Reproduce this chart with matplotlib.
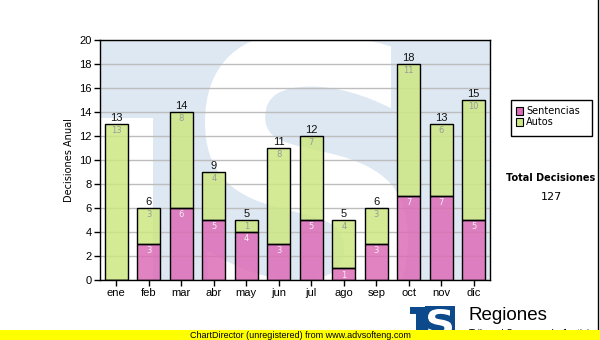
import matplotlib
matplotlib.use("Agg")
import matplotlib.pyplot as plt
from matplotlib.textpath import TextPath
from matplotlib.font_manager import FontProperties
from matplotlib.patches import PathPatch, Rectangle
from matplotlib.transforms import Affine2D
import numpy as np

months = ["ene", "feb", "mar", "abr", "may", "jun", "jul", "ago", "sep", "oct", "nov", "dic"]
sentencias = [0, 3, 6, 5, 4, 3, 5, 1, 3, 7, 7, 5]
autos = [13, 3, 8, 4, 1, 8, 7, 4, 3, 11, 6, 10]
y_ticks = list(range(0, 21, 2))
legend_labels = ["Sentencias", "Autos"]
total_title = "Total Decisiones"

W, H = 600, 340
fig = plt.figure(figsize=(W / 100, H / 100), dpi=100)
fig.patch.set_facecolor("white")

# plot area in pixels
L, R, T, B = 100, 490, 40, 280
ax = fig.add_axes([L / W, 1 - B / H, (R - L) / W, (B - T) / H])

WM_BLUE = "#dde8f2"
ax.set_facecolor(WM_BLUE)


def px_to_axes(px, py):
    return (px - L) / (R - L), (B - py) / (B - T)


# watermark: pale logo with a white letter S
x0, y0 = px_to_axes(L, 118)
ax.add_patch(Rectangle((0, 0), (153 - L) / (R - L), y0, transform=ax.transAxes,
                       facecolor="white", edgecolor="none", zorder=0.2))

fp = FontProperties(family="DejaVu Sans", weight="bold")
sp = TextPath((0, 0), "S", size=1, prop=fp)
ext = sp.get_extents()
sx0, sx1, sy0, sy1 = 205, 408, 32, 335  # pixel bbox of the letter
ax0, ay_top = px_to_axes(sx0, sy0)
ax1, ay_bot = px_to_axes(sx1, sy1)
tr = (Affine2D()
      .translate(-ext.x0, -ext.y0)
      .scale((ax1 - ax0) / ext.width, (ay_top - ay_bot) / ext.height)
      .translate(ax0, ay_bot))
s_patch = PathPatch(tr.transform_path(sp), facecolor="white", edgecolor="none",
                    transform=ax.transAxes, zorder=0.3)
ax.add_patch(s_patch)

x = np.arange(len(months))
green = "#cde783"
pink = "#dc6cb6"
bw = 0.71
totals = [s + a for s, a in zip(sentencias, autos)]

ax.bar(x, sentencias, width=bw, color=pink, alpha=0.85, edgecolor="none", zorder=2)
ax.bar(x, sentencias, width=bw, facecolor="none", edgecolor="black", linewidth=1, zorder=3)
ax.bar(x, autos, bottom=sentencias, width=bw, color=green, alpha=0.85, edgecolor="none", zorder=2)
ax.bar(x, autos, bottom=sentencias, width=bw, facecolor="none", edgecolor="black", linewidth=1, zorder=3)

dy = 1 / (B - T) * 20  # one pixel in data units
for i in range(len(months)):
    if sentencias[i] > 0:
        ax.text(x[i], sentencias[i] - 2.5 * dy, str(sentencias[i]), ha="center", va="top",
                fontsize=6, color="#f4eef4", family="DejaVu Sans", zorder=4)
    if autos[i] > 0:
        ax.text(x[i], totals[i] - 2.5 * dy, str(autos[i]), ha="center", va="top",
                fontsize=6, color="#9a9a9a", family="DejaVu Sans", zorder=4)
    ax.text(x[i], totals[i] + 1.0 * dy, str(totals[i]), ha="center", va="bottom",
            fontsize=8, color="#111111", family="Liberation Sans", zorder=4)

ax.set_xlim(-0.5, len(months) - 0.5)
ax.set_ylim(0, 20)
ax.set_yticks(y_ticks)
ax.set_yticklabels([str(v) for v in y_ticks], family="Liberation Sans", fontsize=8)
ax.set_xticks(x)
ax.set_xticklabels(months, family="Liberation Sans", fontsize=8)
ax.tick_params(axis="both", direction="out", length=4, width=1, color="black", pad=2)
ax.set_axisbelow(True)
ax.yaxis.grid(True, color="#bdbdbd", linewidth=1)
for sp_ in ax.spines.values():
    sp_.set_color("black")
    sp_.set_linewidth(1)

ax.set_ylabel("Decisiones Anual", family="DejaVu Sans", fontsize=7, labelpad=4)


def fx(px):
    return px / W


def fy(py):
    return 1 - py / H


# legend box
fig.patches.append(Rectangle((fx(511), fy(136)), fx(592) - fx(511), fy(100) - fy(136),
                             transform=fig.transFigure, facecolor="white",
                             edgecolor="black", linewidth=1, zorder=5))
for j, (lab, col) in enumerate(zip(legend_labels, [pink, green])):
    yy = 111 + j * 11
    fig.patches.append(Rectangle((fx(516), fy(yy + 3.5)), 7 / W, 7 / H,
                                 transform=fig.transFigure, facecolor=col,
                                 edgecolor="black", linewidth=0.8, zorder=6))
    fig.text(fx(526), fy(yy), lab, fontsize=7, family="DejaVu Sans",
             va="center", ha="left", zorder=6)

fig.text(fx(551), fy(178), total_title, fontsize=7, weight="bold",
         family="DejaVu Sans", ha="center", va="center")
fig.text(fx(551), fy(197), str(sum(totals)), fontsize=8,
         family="DejaVu Sans", ha="center", va="center")

# logo at the bottom right
LOGO = "#0d4a8c"
fig.patches.append(Rectangle((fx(410), fy(314)), fx(433) - fx(410), 7 / H,
                             transform=fig.transFigure, facecolor=LOGO, edgecolor="none", zorder=3))
fig.patches.append(Rectangle((fx(416), fy(336)), fx(428) - fx(416), fy(307) - fy(336),
                             transform=fig.transFigure, facecolor=LOGO, edgecolor="none", zorder=3))
fig.patches.append(Rectangle((fx(425), fy(336)), fx(455) - fx(425), fy(306) - fy(336),
                             transform=fig.transFigure, facecolor=LOGO, edgecolor="none", zorder=3))
lp = TextPath((0, 0), "S", size=1, prop=fp)
le = lp.get_extents()
ltr = (Affine2D()
       .translate(-le.x0, -le.y0)
       .scale((fx(452) - fx(428)) / le.width, (fy(309) - fy(336)) / le.height)
       .translate(fx(428), fy(336)))
fig.patches.append(PathPatch(ltr.transform_path(lp), facecolor="white", edgecolor="none",
                             transform=fig.transFigure, zorder=4))
fig.text(fx(469), fy(316), "Regiones", fontsize=13.5, family="Liberation Sans",
         ha="left", va="center", color="black")
fig.text(fx(469), fy(334), "Tribunal Supremo de Justicia", fontsize=7,
         family="Liberation Sans", ha="left", va="center", color="black", zorder=2)

# yellow banner
fig.patches.append(Rectangle((0, 0), 1, 10 / H, transform=fig.transFigure,
                             facecolor="#ffff00", edgecolor="none", zorder=8))
fig.text(fx(300), fy(335), "ChartDirector (unregistered) from www.advsofteng.com",
         fontsize=6.5, family="Liberation Sans", ha="center", va="center", zorder=9)

# frame line at the right edge
fig.add_artist(plt.Line2D([fx(597.5), fx(597.5)], [fy(330), 1], transform=fig.transFigure,
                          color="black", linewidth=1))

fig.savefig("out.png", dpi=100)
